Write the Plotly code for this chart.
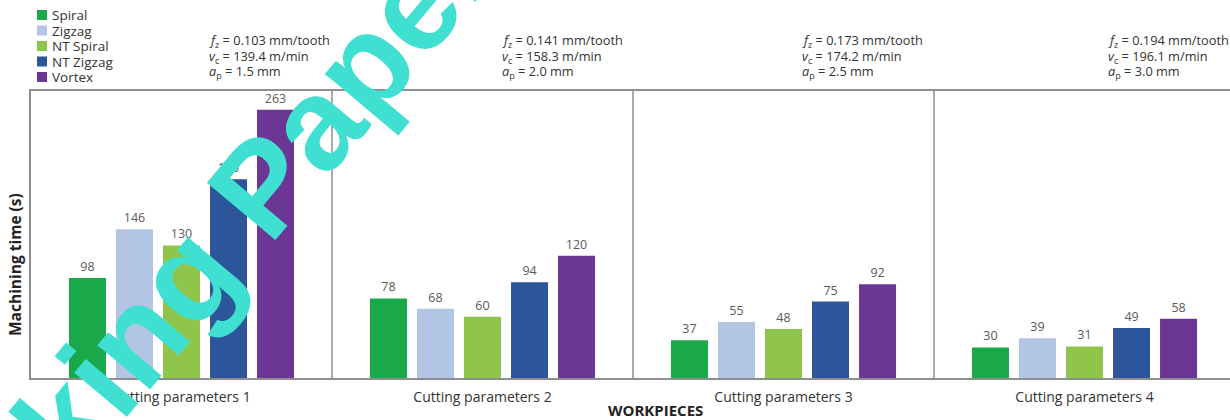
import plotly.graph_objects as go

# Cutting-parameter sets (one panel each)
groups = ["Cutting parameters 1", "Cutting parameters 2",
          "Cutting parameters 3", "Cutting parameters 4"]
feed_per_tooth = [0.103, 0.141, 0.173, 0.194]   # mm/tooth
cutting_speed = [139.4, 158.3, 174.2, 196.1]    # m/min
depth_of_cut = [1.5, 2.0, 2.5, 3.0]             # mm

# Toolpath strategies and machining times (s)
strategies = ["Spiral", "Zigzag", "NT Spiral", "NT Zigzag", "Vortex"]
spiral = [98, 78, 37, 30]
zigzag = [146, 68, 55, 39]
nt_spiral = [130, 60, 48, 31]
nt_zigzag = [195, 94, 75, 49]
vortex = [263, 120, 92, 58]
times = [spiral, zigzag, nt_spiral, nt_zigzag, vortex]

colors = ["#19a94b", "#b2c5e5", "#8fc54b", "#2d5599", "#6c3794"]

W, H = 1230, 420
ML, MR, MT, MB = 31, 0, 91, 42
PW, PH = W - ML - MR, H - MT - MB
PANEL_PX = 301.0
FONT = "Open Sans"
TXT = "#333333"
LINE = "#8e8e8e"


def px_x(px):
    return (px - ML) / PW


def px_y(py):
    return (H - MB - py) / PH


fig = go.Figure()
xs = list(range(len(groups)))
for name, vals, col in zip(strategies, times, colors):
    fig.add_trace(go.Bar(
        x=xs, y=vals, name=name, marker=dict(color=col, line=dict(width=0)),
        text=vals, textposition="outside", cliponaxis=False,
        textfont=dict(family=FONT, size=12.5, color="#5a5a5a"),
        showlegend=False,
    ))

annotations = []
shapes = []

# Legend: coloured squares with names
for i, (name, col) in enumerate(zip(strategies, colors)):
    cy = 15 + i * 15.5
    shapes.append(dict(type="rect", xref="paper", yref="paper",
                       x0=px_x(37), x1=px_x(47), y0=px_y(cy + 5), y1=px_y(cy - 5),
                       fillcolor=col, line=dict(width=0)))
    annotations.append(dict(text=name, xref="paper", yref="paper",
                            x=px_x(50), y=px_y(cy), xanchor="left", yanchor="middle",
                            showarrow=False,
                            font=dict(family=FONT, size=13.5, color=TXT)))

# Cutting-parameter captions above each panel, one line each
cap_left = [207, 500, 800, 1106]
for i in range(len(groups)):
    lines = [f"<i>f</i><sub>z</sub> = {feed_per_tooth[i]:.3f} mm/tooth",
             f"<i>v</i><sub>c</sub> = {cutting_speed[i]:.1f} m/min",
             f"<i>a</i><sub>p</sub> = {depth_of_cut[i]:.1f} mm"]
    for j, line in enumerate(lines):
        annotations.append(dict(text=line, xref="paper", yref="paper",
                                x=px_x(cap_left[i]), y=px_y(41 + j * 15.5),
                                xanchor="left", yanchor="middle", align="left",
                                showarrow=False,
                                font=dict(family=FONT, size=12.8, color=TXT)))

# Panel separators
for k in range(1, len(groups)):
    shapes.append(dict(type="line", xref="x", yref="paper",
                       x0=k - 0.5, x1=k - 0.5, y0=0, y1=1,
                       line=dict(color=LINE, width=1.5)))

# Axis titles
annotations.append(dict(text="<b>Machining time (s)</b>", xref="paper", yref="paper",
                        x=px_x(15), y=px_y(265), textangle=-90, showarrow=False,
                        xanchor="center", yanchor="middle",
                        font=dict(family=FONT, size=15.5, color="#222222")))
annotations.append(dict(text="<b>WORKPIECES</b>", xref="paper", yref="paper",
                        x=px_x(655), y=px_y(410), showarrow=False,
                        xanchor="center", yanchor="middle",
                        font=dict(family=FONT, size=15, color="#222222")))

# Watermark
annotations.append(dict(text="<b>Working Paper</b>", xref="paper", yref="paper",
                        x=px_x(173), y=px_y(292), textangle=-50, showarrow=False,
                        xanchor="center", yanchor="middle",
                        font=dict(family="Liberation Sans", size=130, color="#3fe0d2")))

fig.update_layout(
    width=W, height=H,
    margin=dict(l=ML, r=MR, t=MT, b=MB, pad=0),
    paper_bgcolor="white", plot_bgcolor="white",
    barmode="group", bargap=0.219, bargroupgap=0.213,
    showlegend=False,
    xaxis=dict(range=[-0.5, -0.5 + PW / PANEL_PX], tickvals=xs, ticktext=groups,
               showline=True, mirror=True, linecolor=LINE, linewidth=1.5,
               showgrid=False, zeroline=False, ticks="outside", ticklen=5,
               tickcolor="rgba(0,0,0,0)",
               tickfont=dict(family=FONT, size=14, color=TXT)),
    yaxis=dict(range=[0, 281.5], showline=True, linecolor=LINE, linewidth=1.5,
               showgrid=False, zeroline=False, showticklabels=False, ticks=""),
    shapes=shapes, annotations=annotations,
)

fig.write_html("out.html")
